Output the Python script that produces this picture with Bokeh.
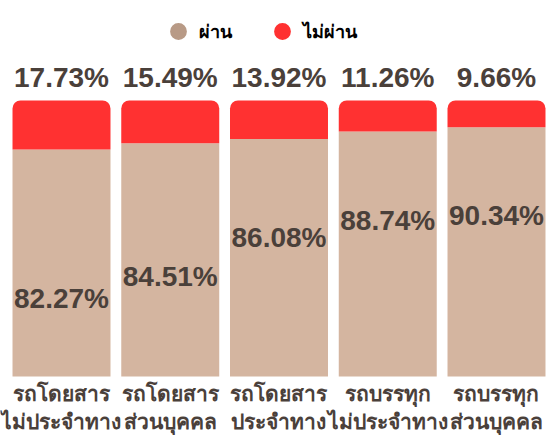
from bokeh.plotting import figure
from bokeh.models import Range1d, ColumnDataSource, Legend, LegendItem
from bokeh.core.properties import value
from bokeh.embed import file_html
from bokeh.resources import INLINE

# ---- data ----
categories_line1 = ["รถโดยสาร", "รถโดยสาร", "รถโดยสาร", "รถบรรทุก", "รถบรรทุก"]
categories_line2 = ["ไม่ประจำทาง", "ส่วนบุคคล", "ประจำทาง", "ไม่ประจำทาง", "ส่วนบุคคล"]
pass_pct = [82.27, 84.51, 86.08, 88.74, 90.34]
fail_pct = [17.73, 15.49, 13.92, 11.26, 9.66]
series_names = ["ผ่าน", "ไม่ผ่าน"]

# label placement inside the tan segment (data units)
pass_label_y = [28.1, 36.2, 50.2, 56.5, 58.3]

TAN = "#d4b5a0"
TAN_DOT = "#b89a86"
RED = "#ff3131"
DARK = "#4a403a"
FONT = "Noto Sans"
NUMFONT = "Liberation Sans"

n = len(pass_pct)
xs = list(range(n))
src = ColumnDataSource(dict(
    x=xs,
    passv=pass_pct,
    fail_top=[p_ + f_ for p_, f_ in zip(pass_pct, fail_pct)],
    pass_lbl=[f"{v:.2f}%" for v in pass_pct],
    fail_lbl=[f"{v:.2f}%" for v in fail_pct],
    pass_y=pass_label_y,
    top_y=[100 + 8.2] * n,
    l1_y=[-5.9] * n,
    l2_y=[-16.0] * n,
    l1=categories_line1,
    l2=categories_line2,
))

W, H = 546, 441
p = figure(width=W, height=H, output_backend="svg", toolbar_location=None,
           x_range=Range1d(-0.5609, 4.4598), y_range=Range1d(-23.55, 136.23),
           min_border=0, outline_line_color=None)
p.axis.visible = False
p.grid.visible = False
p.background_fill_color = "white"

bw = 0.901
r_pass = p.vbar(x="x", top="passv", bottom=0, width=bw, source=src,
                fill_color=TAN, line_color=None)
r_fail = p.vbar(x="x", top="fail_top", bottom="passv", width=bw, source=src,
                fill_color=RED, line_color=None, border_radius=(8, 8, 0, 0))

p.text(x="x", y="top_y", text="fail_lbl", source=src, text_align="center",
       text_baseline="middle", text_font=value(NUMFONT),
       text_font_style="bold", text_font_size="28px", text_color=DARK)
p.text(x="x", y="pass_y", text="pass_lbl", source=src, text_align="center",
       text_baseline="middle", text_font=value(NUMFONT),
       text_font_style="bold", text_font_size="28px", text_color=DARK)
p.text(x="x", y="l1_y", text="l1", source=src, text_align="center",
       text_baseline="middle", text_font=value(FONT), text_font_style="bold",
       text_font_size="21px", text_color=DARK)
p.text(x="x", y="l2_y", text="l2", source=src, text_align="center",
       text_baseline="middle", text_font=value(FONT), text_font_style="bold",
       text_font_size="21px", text_color=DARK)

# legend with circle markers (dummy points outside the visible range)
d1 = p.scatter(x=[-10], y=[-100], marker="circle", size=17, fill_color=TAN_DOT, line_color=None)
d2 = p.scatter(x=[-10], y=[-100], marker="circle", size=17, fill_color=RED, line_color=None)
legend = Legend(items=[LegendItem(label=series_names[0], renderers=[d1]),
                       LegendItem(label=series_names[1], renderers=[d2])],
                orientation="horizontal", location=(157, 389),
                glyph_width=42, glyph_height=42, label_standoff=0, spacing=29,
                padding=0, margin=0, border_line_color=None,
                background_fill_alpha=0,
                label_text_font=FONT, label_text_font_style="bold",
                label_text_font_size="18px", label_text_color="black")
p.add_layout(legend, "center")

open("out.html", "w").write(file_html(p, INLINE))
